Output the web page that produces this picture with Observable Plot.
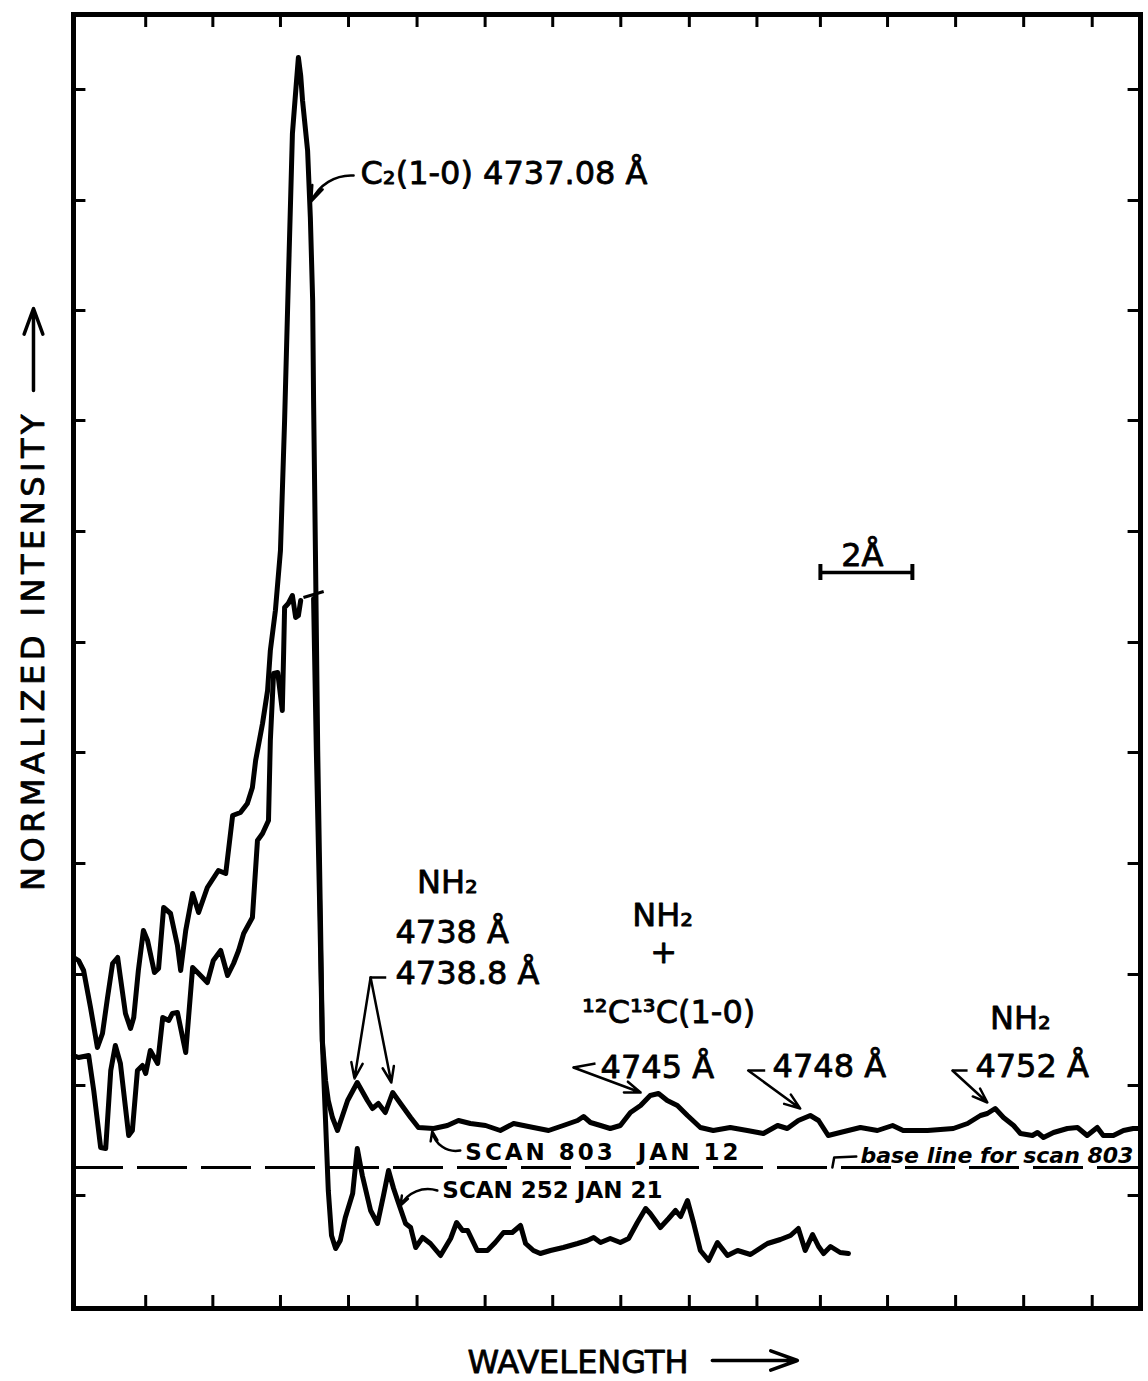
<!DOCTYPE html>
<html><head><meta charset="utf-8">
<script src="https://cdn.jsdelivr.net/npm/d3@7"></script>
<script src="https://cdn.jsdelivr.net/npm/@observablehq/plot@0.6"></script>
<style>
html,body{margin:0;padding:0;background:#fff;}
#chart svg{display:block;}
</style></head><body><div id="chart"></div><script>
// ---- Scan 803 (Jan 12): wavelength (Å) and normalized intensity (arbitrary units)
const wl803 = [4732.25,4732.32,4732.43,4732.58,4732.73,4732.84,4732.95,4733.06,4733.17,4733.23,4733.34,4733.45,4733.52,4733.62,4733.73,4733.82,4733.97,4734.06,4734.17,4734.32,4734.47,4734.54,4734.65,4734.80,4734.93,4735.12,4735.36,4735.52,4735.67,4735.84,4735.99,4736.10,4736.17,4736.32,4736.43,4736.49,4736.60,4736.71,4736.80,4736.88,4736.93,4736.97,4737.06,4737.10,4737.15,4737.19,4737.30,4737.36,4737.41,4737.43,4737.47,4737.52,4737.58,4737.62,4737.69,4737.75,4737.84,4737.95,4738.06,4738.17,4738.38,4738.60,4738.71,4738.84,4738.99,4739.15,4739.32,4739.54,4739.71,4740.04,4740.34,4740.58,4740.84,4741.17,4741.49,4741.78,4742.21,4742.54,4742.86,4743.17,4743.30,4743.45,4743.67,4743.88,4744.10,4744.32,4744.54,4744.75,4744.93,4745.12,4745.34,4745.56,4745.84,4746.12,4746.49,4746.86,4747.21,4747.52,4747.73,4747.97,4748.23,4748.41,4748.62,4748.88,4749.32,4749.69,4750.02,4750.25,4750.78,4751.34,4751.65,4751.93,4752.08,4752.25,4752.43,4752.65,4752.80,4753.06,4753.17,4753.30,4753.52,4753.82,4754.04,4754.25,4754.47,4754.60,4754.82,4755.04,4755.25,4755.41];
const in803 = [35.0,34.8,33.8,30.1,26.1,27.5,31.1,34.5,35.1,33.1,29.5,28.0,29.1,33.8,37.8,36.8,33.6,34.0,40.1,39.5,36.3,33.8,37.8,41.5,39.6,42.1,43.8,43.5,49.3,49.6,50.5,52.1,54.8,58.5,61.8,65.8,69.8,75.8,88.8,102.5,110.8,117.5,122.8,125.1,123.3,120.8,115.8,109.1,100.8,90.8,75.8,55.8,38.8,26.8,22.8,20.8,19.1,17.8,19.3,20.8,22.6,20.8,20.0,20.5,19.6,21.6,20.5,19.1,18.1,18.0,18.3,18.8,18.5,18.3,17.8,18.5,18.1,17.8,18.3,18.8,19.2,18.6,18.3,18.0,18.3,19.6,20.3,21.3,21.5,20.8,20.3,19.3,18.1,17.8,18.1,17.8,17.5,18.3,18.0,18.8,19.3,18.8,17.3,17.6,18.1,17.8,18.3,17.8,17.8,18.0,18.5,19.3,19.5,20.0,19.1,18.3,17.5,17.3,17.6,17.1,17.6,18.0,18.1,17.3,18.1,17.3,17.3,17.8,18.0,18.0];

// ---- Scan 252 (Jan 21); NaN marks the broken (truncated) part of the C2 peak
const wl252 = [4732.21,4732.32,4732.54,4732.65,4732.80,4732.91,4733.02,4733.12,4733.23,4733.41,4733.49,4733.60,4733.71,4733.78,4733.88,4734.04,4734.15,4734.28,4734.36,4734.47,4734.65,4734.80,4734.93,4735.12,4735.25,4735.41,4735.56,4735.69,4735.80,4735.91,4736.10,4736.21,4736.32,4736.45,4736.49,4736.56,4736.65,4736.75,4736.78,4736.80,4736.88,4736.97,4737.04,4737.10,4737.15,4737.30,4737.43,4737.49,4737.56,4737.62,4737.69,4737.75,4737.82,4737.91,4738.01,4738.12,4738.28,4738.38,4738.49,4738.67,4738.82,4738.95,4739.06,4739.17,4739.28,4739.43,4739.54,4739.65,4739.80,4739.97,4740.19,4740.41,4740.54,4740.67,4740.78,4740.99,4741.21,4741.38,4741.56,4741.75,4741.93,4742.04,4742.21,4742.36,4742.58,4742.86,4743.17,4743.38,4743.52,4743.67,4743.88,4744.10,4744.28,4744.47,4744.65,4744.75,4744.97,4745.15,4745.30,4745.41,4745.56,4745.69,4745.84,4746.02,4746.21,4746.43,4746.65,4746.93,4747.30,4747.58,4747.80,4747.97,4748.12,4748.28,4748.41,4748.52,4748.67,4748.88,4749.06];
const in252 = [25.3,25.1,25.3,21.8,16.1,16.0,23.8,26.3,24.5,17.3,17.8,23.8,24.3,23.5,25.8,24.5,29.1,28.8,29.5,29.6,25.6,34.1,33.5,32.6,34.8,35.8,33.3,34.5,35.8,37.5,39.1,46.8,47.5,48.8,56.8,63.5,63.6,59.8,65.8,70.1,70.5,71.3,69.1,69.3,70.8,NaN,71.0,55.8,40.8,26.8,18.8,11.8,7.3,6.0,6.8,9.1,11.5,16.0,13.3,9.8,8.5,11.3,13.8,12.0,10.5,8.5,8.1,6.1,7.1,6.5,5.3,7.0,8.6,7.8,7.8,5.8,5.8,6.6,7.6,7.6,8.3,6.5,5.8,5.5,5.8,6.1,6.5,6.8,7.1,6.6,7.0,6.6,7.0,8.6,10.0,9.5,8.1,9.0,9.8,9.2,10.8,8.6,5.8,4.8,6.6,5.3,5.8,5.4,6.5,6.9,7.3,8.0,5.8,7.4,6.2,5.5,6.2,5.6,5.5];

// ---- Baseline for scan 803, axis extents and (unlabelled) tick positions
const baseline803 = 14.1;
const xDomain = [4732.21, 4755.41];
const yDomain = [0, 129.4];
const xTicks = [4733.78,4735.24,4736.71,4738.19,4739.68,4741.16,4742.63,4744.11,4745.60,4747.07,4748.45,4749.91,4751.39,4752.87,4754.36];
const yTicks = [11.3,22.3,33.4,44.5,55.6,66.6,77.7,88.8,99.8,110.8,121.9];

// ---- Annotation labels
const startLabelText = ["C₂(1-0) 4737.08 Å", "4738 Å", "4738.8 Å", "4745 Å", "4748 Å", "4752 Å"];
const startLabelWl   = [4738.45, 4739.21, 4739.21, 4743.67, 4747.41, 4751.82];
const startLabelInt  = [113.5, 37.6, 33.5, 24.1, 24.2, 24.2];
const midLabelText = ["NH₂", "NH₂", "+", "¹²C¹³C(1-0)", "NH₂", "2Å"];
const midLabelWl   = [4740.34, 4745.02, 4745.04, 4745.15, 4752.80, 4749.36];
const midLabelInt  = [42.6, 39.3, 35.6, 29.6, 29.0, 75.3];
const scanLabelText = ["SCAN 803  JAN 12", "SCAN 252 JAN 21"];
const scanLabelWl   = [4740.73, 4740.23];
const scanLabelInt  = [15.6, 11.8];
const baseLabelText = ["base line for scan 803"];
const baseLabelWl = [4749.32];
const baseLabelInt = [15.3];
const xTitle = "WAVELENGTH";
const yTitle = "NORMALIZED INTENSITY";

// straight leader arrows (from -> to)
const arrowFromWl = [4738.67, 4738.67, 4743.08, 4746.88, 4751.32];
const arrowFromInt = [33.1, 33.1, 24.1, 23.8, 23.8];
const arrowToWl = [4738.32, 4739.12, 4744.54, 4748.01, 4752.08];
const arrowToInt = [23.0, 22.6, 21.6, 20.0, 20.6];
// short horizontal leader stubs
const stubFromWl = [4739.01, 4743.56, 4747.25, 4751.65];
const stubFromInt = [33.1, 24.5, 23.8, 23.8];
const stubToWl = [4738.67, 4743.08, 4746.88, 4751.32];
const stubToInt = [33.1, 24.1, 23.8, 23.8];
// curved leaders
const c2Leader = {x1: 4738.30, y1: 113.3, x2: 4737.38, y2: 110.7};
const scan803Leader = {x1: 4740.62, y1: 15.8, x2: 4740.01, y2: 17.7};
const scan252Leader = {x1: 4740.12, y1: 11.8, x2: 4739.32, y2: 10.3};
// base-line bracket
const bracketWl = [4748.71, 4748.75, 4749.23];
const bracketInt = [14.1, 15.1, 15.2];
// break mark on truncated scan 252 peak
const breakMark = {x1: 4737.21, y1: 71.1, x2: 4737.65, y2: 71.7};
// 2 Å scale bar
const scaleBarWl = [4748.45, 4750.45];
const scaleBarInt = 73.6;
// axis-title arrows
const xTitleArrow = {x1: 4746.10, y1: -5.2, x2: 4747.95, y2: -5.2};
const yTitleArrow = {x1: 4731.34, y1: 91.8, x2: 4731.34, y2: 100.0};

const rows803 = wl803.map((w, i) => ({wl: w, int: in803[i]}));
const rows252 = wl252.map((w, i) => ({wl: w, int: in252[i]}));
const zipLabels = (t, w, v) => t.map((s, i) => ({text: s, wl: w[i], int: v[i]}));
const startLabels = zipLabels(startLabelText, startLabelWl, startLabelInt);
const midLabels = zipLabels(midLabelText, midLabelWl, midLabelInt);
const scanLabels = zipLabels(scanLabelText, scanLabelWl, scanLabelInt);
const baseLabels = zipLabels(baseLabelText, baseLabelWl, baseLabelInt);
const arrows = arrowFromWl.map((w, i) => ({x1: w, y1: arrowFromInt[i], x2: arrowToWl[i], y2: arrowToInt[i]}));
const stubs = stubFromWl.map((w, i) => ({x1: w, y1: stubFromInt[i], x2: stubToWl[i], y2: stubToInt[i]}));
const bracket = bracketWl.map((w, i) => ({wl: w, int: bracketInt[i]}));

const FONT = "DejaVu Sans";
const ink = "black";
const heavyText = {fill: ink, stroke: ink, strokeWidth: 0.8};

const chart = Plot.plot({
  width: 1148, height: 1381,
  marginLeft: 73, marginRight: 8, marginTop: 14, marginBottom: 73,
  x: {domain: xDomain, axis: null},
  y: {domain: yDomain, axis: null},
  style: {fontFamily: FONT, background: "white", color: ink},
  marks: [
    Plot.ruleY([baseline803], {stroke: ink, strokeWidth: 3, strokeDasharray: "50,14"}),
    Plot.line(rows803, {x: "wl", y: "int", stroke: ink, strokeWidth: 5, strokeLinejoin: "round", strokeLinecap: "round"}),
    Plot.line(rows252, {x: "wl", y: "int", stroke: ink, strokeWidth: 5, strokeLinejoin: "round", strokeLinecap: "round"}),
    Plot.link([breakMark], {x1: "x1", y1: "y1", x2: "x2", y2: "y2", stroke: ink, strokeWidth: 3}),
    // frame and inward ticks
    Plot.frame({stroke: ink, strokeWidth: 5}),
    Plot.ruleX(xTicks, {x: d => d, y1: yDomain[0], y2: yDomain[0] + 1.3, stroke: ink, strokeWidth: 3}),
    Plot.ruleX(xTicks, {x: d => d, y1: yDomain[1], y2: yDomain[1] - 1.3, stroke: ink, strokeWidth: 3}),
    Plot.ruleY(yTicks, {y: d => d, x1: xDomain[0], x2: xDomain[0] + 0.27, stroke: ink, strokeWidth: 3}),
    Plot.ruleY(yTicks, {y: d => d, x1: xDomain[1], x2: xDomain[1] - 0.27, stroke: ink, strokeWidth: 3}),
    // leaders
    Plot.link(stubs, {x1: "x1", y1: "y1", x2: "x2", y2: "y2", stroke: ink, strokeWidth: 2.5}),
    Plot.arrow(arrows, {x1: "x1", y1: "y1", x2: "x2", y2: "y2", stroke: ink, strokeWidth: 2.5, headLength: 10, headAngle: 40}),
    Plot.arrow([c2Leader], {x1: "x1", y1: "y1", x2: "x2", y2: "y2", bend: -35, stroke: ink, strokeWidth: 2.5, headLength: 10, headAngle: 40}),
    Plot.arrow([scan803Leader], {x1: "x1", y1: "y1", x2: "x2", y2: "y2", bend: 45, stroke: ink, strokeWidth: 2.5, headLength: 6, headAngle: 40}),
    Plot.arrow([scan252Leader], {x1: "x1", y1: "y1", x2: "x2", y2: "y2", bend: -40, stroke: ink, strokeWidth: 2.5, headLength: 6, headAngle: 40}),
    Plot.line(bracket, {x: "wl", y: "int", stroke: ink, strokeWidth: 2.5}),
    // 2 Å scale bar
    Plot.link([{x1: scaleBarWl[0], x2: scaleBarWl[1], y: scaleBarInt}], {x1: "x1", x2: "x2", y1: "y", y2: "y", stroke: ink, strokeWidth: 3.5}),
    Plot.ruleX(scaleBarWl, {x: d => d, y1: scaleBarInt - 0.8, y2: scaleBarInt + 0.8, stroke: ink, strokeWidth: 4}),
    // labels
    Plot.text(startLabels, {x: "wl", y: "int", text: "text", textAnchor: "start", fontSize: 32, ...heavyText}),
    Plot.text(midLabels, {x: "wl", y: "int", text: "text", textAnchor: "middle", fontSize: 32, ...heavyText}),
    Plot.text(scanLabels, {x: "wl", y: "int", text: "text", textAnchor: "start", fontSize: 23, fontWeight: "bold", fill: ink}),
    Plot.text(baseLabels, {x: "wl", y: "int", text: "text", textAnchor: "start", fontSize: 22, fontWeight: "bold", fontStyle: "italic", fill: ink}),
    // axis titles
    Plot.text([xTitle], {text: d => d, frameAnchor: "bottom", textAnchor: "middle", lineAnchor: "middle", dx: -29, dy: 54, fontSize: 32, ...heavyText}),
    Plot.arrow([xTitleArrow], {x1: "x1", y1: "y1", x2: "x2", y2: "y2", stroke: ink, strokeWidth: 3.5, headLength: 14, headAngle: 40}),
    Plot.text([yTitle], {text: d => d, frameAnchor: "left", textAnchor: "middle", lineAnchor: "middle", dx: -40, dy: -11, rotate: -90, fontSize: 32, ...heavyText}),
    Plot.arrow([yTitleArrow], {x1: "x1", y1: "y1", x2: "x2", y2: "y2", stroke: ink, strokeWidth: 3.5, headLength: 14, headAngle: 40})
  ]
});

d3.select(chart).selectAll("text").each(function() {
  const t = this.textContent;
  if (t === scanLabelText[0]) { this.setAttribute("letter-spacing", "3"); this.style.whiteSpace = "pre"; }
  if (t === yTitle) this.setAttribute("letter-spacing", "4.5");
});
document.getElementById("chart").append(chart);
</script></body></html>
